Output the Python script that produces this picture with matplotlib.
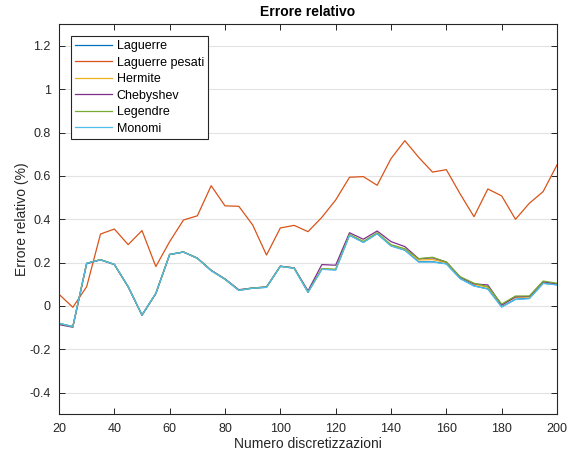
import matplotlib
matplotlib.use("Agg")
import matplotlib.pyplot as plt
import numpy as np

plt.rcParams['font.family'] = ['Liberation Sans', 'DejaVu Sans']

# Number of discretization points
n_disc = list(range(20, 201, 5))

laguerre = [-0.080, -0.095, 0.197, 0.213, 0.192, 0.089, -0.042, 0.058, 0.238, 0.249,
            0.220, 0.163, 0.123, 0.072, 0.082, 0.086, 0.183, 0.174, 0.063, 0.170,
            0.167, 0.327, 0.294, 0.334, 0.278, 0.258, 0.204, 0.204, 0.195, 0.127,
            0.093, 0.079, -0.004, 0.031, 0.035, 0.105, 0.098]
laguerre_pesati = [0.054, -0.006, 0.089, 0.332, 0.355, 0.283, 0.348, 0.182, 0.297, 0.397,
                   0.416, 0.555, 0.462, 0.460, 0.374, 0.235, 0.360, 0.372, 0.343, 0.409,
                   0.489, 0.594, 0.597, 0.557, 0.680, 0.763, 0.686, 0.618, 0.629, 0.517,
                   0.412, 0.540, 0.508, 0.400, 0.474, 0.528, 0.651]
hermite = [-0.081, -0.096, 0.197, 0.214, 0.192, 0.089, -0.041, 0.058, 0.238, 0.249,
           0.221, 0.164, 0.124, 0.073, 0.083, 0.087, 0.183, 0.175, 0.065, 0.172,
           0.169, 0.329, 0.296, 0.336, 0.281, 0.262, 0.212, 0.214, 0.200, 0.132,
           0.100, 0.086, 0.004, 0.040, 0.041, 0.111, 0.102]
chebyshev = [-0.086, -0.098, 0.195, 0.213, 0.191, 0.088, -0.043, 0.057, 0.237, 0.249,
             0.221, 0.165, 0.125, 0.075, 0.083, 0.088, 0.184, 0.176, 0.070, 0.191,
             0.188, 0.338, 0.308, 0.346, 0.297, 0.274, 0.218, 0.222, 0.203, 0.133,
             0.102, 0.097, 0.004, 0.042, 0.044, 0.112, 0.101]
legendre = [-0.081, -0.096, 0.197, 0.214, 0.192, 0.089, -0.042, 0.058, 0.238, 0.249,
            0.220, 0.164, 0.124, 0.073, 0.083, 0.087, 0.183, 0.175, 0.065, 0.172,
            0.169, 0.330, 0.298, 0.338, 0.283, 0.264, 0.218, 0.225, 0.203, 0.135,
            0.105, 0.090, 0.009, 0.046, 0.046, 0.115, 0.105]
monomi = [-0.080, -0.095, 0.197, 0.213, 0.192, 0.089, -0.042, 0.058, 0.238, 0.249,
          0.220, 0.163, 0.123, 0.072, 0.082, 0.086, 0.183, 0.174, 0.063, 0.169,
          0.166, 0.326, 0.293, 0.333, 0.277, 0.257, 0.203, 0.203, 0.194, 0.126,
          0.092, 0.078, -0.005, 0.030, 0.034, 0.104, 0.097]

series = [
    ("Laguerre", laguerre, "#0072BD"),
    ("Laguerre pesati", laguerre_pesati, "#D95319"),
    ("Hermite", hermite, "#EDB120"),
    ("Chebyshev", chebyshev, "#7E2F8E"),
    ("Legendre", legendre, "#77AC30"),
    ("Monomi", monomi, "#4DBEEE"),
]

fig = plt.figure(figsize=(5.71, 4.57), dpi=100)
ax = fig.add_axes([59 / 571, 42.7 / 457, 498 / 571, 390 / 457])

for name, vals, col in series:
    ax.plot(n_disc, vals, color=col, lw=0.9, label=name)

ax.set_xlim(20, 200)
ax.set_ylim(-0.5, 1.3)
ax.set_xticks(np.arange(20, 201, 20))
ax.set_yticks([-0.4, -0.2, 0, 0.2, 0.4, 0.6, 0.8, 1.0, 1.2])
ax.set_yticklabels(["-0.4", "-0.2", "0", "0.2", "0.4", "0.6", "0.8", "1", "1.2"])

ax.yaxis.grid(True, color="#e3e3e3", lw=0.8)
ax.set_axisbelow(True)
ax.tick_params(direction="in", length=4, width=0.7, colors="#262626",
               labelsize=9, top=True, right=True, pad=6)
for sp in ax.spines.values():
    sp.set_color("#262626")
    sp.set_linewidth(0.8)

ax.set_title("Errore relativo", fontsize=10, fontweight="bold", color="black", pad=6)
ax.set_xlabel("Numero discretizzazioni", fontsize=10, color="#262626", labelpad=2)
ax.set_ylabel("Errore relativo (%)", fontsize=10, color="#262626", labelpad=0)

leg = ax.legend(loc="upper left", bbox_to_anchor=(12 / 498, 1 - 11.5 / 390),
                fontsize=9, frameon=True, fancybox=False, framealpha=1,
                edgecolor="#262626", handlelength=2.9, handletextpad=0.4,
                labelspacing=0.36, borderpad=0.35, borderaxespad=0)
leg.get_frame().set_linewidth(0.8)
for t in leg.get_texts():
    t.set_color("black")

fig.savefig("out.png", dpi=100)
